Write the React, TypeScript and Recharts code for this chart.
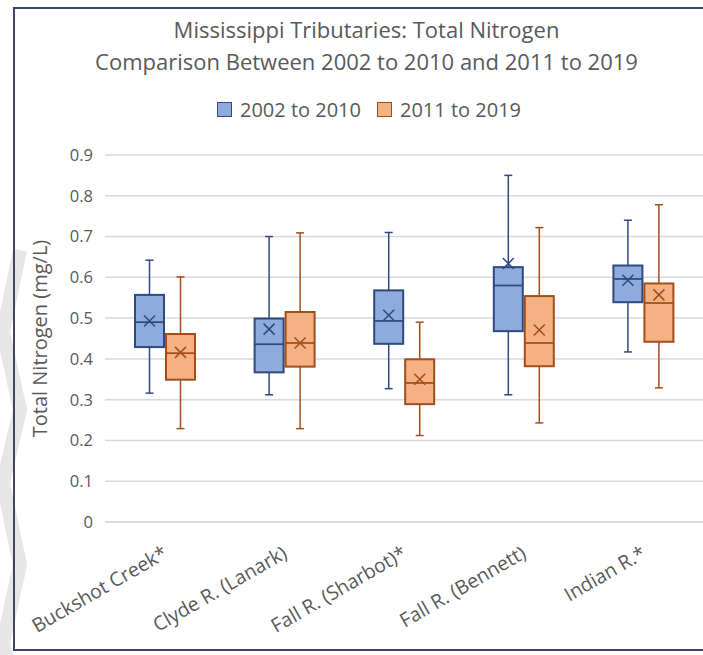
import { ComposedChart, Bar, XAxis, YAxis, CartesianGrid, Label } from 'recharts';

const categories = ['Buckshot Creek*', 'Clyde R. (Lanark)', 'Fall R. (Sharbot)*', 'Fall R. (Bennett)', 'Indian R.*'];

// 2002 to 2010
const earlyMin = [0.316, 0.312, 0.327, 0.312, 0.417];
const earlyQ1 = [0.429, 0.367, 0.437, 0.468, 0.539];
const earlyMedian = [0.49, 0.436, 0.493, 0.58, 0.596];
const earlyQ3 = [0.557, 0.499, 0.568, 0.625, 0.629];
const earlyMax = [0.642, 0.7, 0.71, 0.85, 0.74];
const earlyMean = [0.493, 0.473, 0.507, 0.634, 0.593];

// 2011 to 2019
const lateMin = [0.229, 0.229, 0.212, 0.243, 0.329];
const lateQ1 = [0.349, 0.381, 0.289, 0.382, 0.442];
const lateMedian = [0.414, 0.439, 0.341, 0.439, 0.537];
const lateQ3 = [0.461, 0.515, 0.399, 0.554, 0.585];
const lateMax = [0.601, 0.709, 0.49, 0.722, 0.778];
const lateMean = [0.416, 0.439, 0.35, 0.471, 0.557];

const yTicks = [0, 0.1, 0.2, 0.3, 0.4, 0.5, 0.6, 0.7, 0.8, 0.9];

const FONT = '"Open Sans", Lato, sans-serif';
const TEXT = '#595959';

const BLUE = { fill: '#8FAADC', stroke: '#2E4A7E' };
const ORANGE = { fill: '#F4B183', stroke: '#A24E1A' };

type Stats = { min: number; q1: number; median: number; q3: number; max: number; mean: number };

const data = categories.map((name, i) => ({
  name,
  early: [earlyMin[i], earlyMax[i]],
  late: [lateMin[i], lateMax[i]],
  earlyStats: { min: earlyMin[i], q1: earlyQ1[i], median: earlyMedian[i], q3: earlyQ3[i], max: earlyMax[i], mean: earlyMean[i] },
  lateStats: { min: lateMin[i], q1: lateQ1[i], median: lateMedian[i], q3: lateQ3[i], max: lateMax[i], mean: lateMean[i] },
}));

// the bar spans min..max on the y scale; the other stats are placed on that same scale
function boxShape(key: 'earlyStats' | 'lateStats', color: { fill: string; stroke: string }) {
  return (props: any) => {
    const { x, y, width, height, payload } = props;
    const s: Stats = payload[key];
    const top = Math.min(y, y + height);
    const h = Math.abs(height);
    const ppu = h / (s.max - s.min);
    const toY = (v: number) => top + (s.max - v) * ppu;
    const cx = x + width / 2;
    const cap = 4;
    const m = toY(s.mean);
    const mx = 5.5;
    return (
      <g>
        <line x1={cx} x2={cx} y1={toY(s.max)} y2={toY(s.q3)} stroke={color.stroke} strokeWidth={1.5} />
        <line x1={cx} x2={cx} y1={toY(s.q1)} y2={toY(s.min)} stroke={color.stroke} strokeWidth={1.5} />
        <line x1={cx - cap} x2={cx + cap} y1={toY(s.max)} y2={toY(s.max)} stroke={color.stroke} strokeWidth={1.5} />
        <line x1={cx - cap} x2={cx + cap} y1={toY(s.min)} y2={toY(s.min)} stroke={color.stroke} strokeWidth={1.5} />
        <rect
          x={x}
          y={toY(s.q3)}
          width={width}
          height={toY(s.q1) - toY(s.q3)}
          fill={color.fill}
          stroke={color.stroke}
          strokeWidth={2}
        />
        <line x1={x} x2={x + width} y1={toY(s.median)} y2={toY(s.median)} stroke={color.stroke} strokeWidth={1.75} />
        <line x1={cx - mx} x2={cx + mx} y1={m - mx} y2={m + mx} stroke={color.stroke} strokeWidth={1.5} />
        <line x1={cx - mx} x2={cx + mx} y1={m + mx} y2={m - mx} stroke={color.stroke} strokeWidth={1.5} />
      </g>
    );
  };
}

function CategoryTick({ x, y, payload }: any) {
  return (
    <g transform={`translate(${x + 4},${y + 27})`}>
      <text x={0} y={0} textAnchor="end" transform="rotate(-30)" fill={TEXT} fontSize={19.5} fontFamily={FONT}>
        {payload.value}
      </text>
    </g>
  );
}

function LegendItem({ label, color }: { label: string; color: { fill: string; stroke: string } }) {
  return (
    <span style={{ display: 'inline-flex', alignItems: 'center', gap: 8 }}>
      <span
        style={{
          width: 13,
          height: 13,
          background: color.fill,
          border: `1.5px solid ${color.stroke}`,
          display: 'inline-block',
        }}
      />
      <span>{label}</span>
    </span>
  );
}

export default function App() {
  return (
    <div style={{ position: 'absolute', left: 0, top: 0, width: 703, height: 655, background: '#fff', overflow: 'hidden' }}>
      {/* light grey zigzag showing through at the left edge */}
      <svg width={40} height={655} style={{ position: 'absolute', left: 0, top: 0 }}>
        <polyline
          points="20,250 3,332 20,410 3,483 20,565 3,643 20,720"
          fill="none"
          stroke="#E6E6E6"
          strokeWidth={14}
        />
      </svg>
      {/* frame of the chart area (cropped on the right) */}
      <div
        style={{
          position: 'absolute',
          left: 13,
          top: 7,
          width: 720,
          height: 640,
          border: '2px solid #3A4868',
          borderRight: 'none',
        }}
      />
      <div
        style={{
          position: 'absolute',
          left: 0,
          top: 13,
          width: 733,
          textAlign: 'center',
          fontFamily: FONT,
          color: TEXT,
          fontSize: 22,
          lineHeight: '32px',
        }}
      >
        <div>Mississippi Tributaries: Total Nitrogen</div>
        <div>Comparison Between 2002 to 2010 and 2011 to 2019</div>
      </div>
      <div
        style={{
          position: 'absolute',
          left: 0,
          top: 96,
          width: 738,
          display: 'flex',
          justifyContent: 'center',
          gap: 16,
          fontFamily: FONT,
          color: TEXT,
          fontSize: 20,
        }}
      >
        <LegendItem label="2002 to 2010" color={BLUE} />
        <LegendItem label="2011 to 2019" color={ORANGE} />
      </div>
      <div style={{ position: 'absolute', left: 0, top: 0 }}>
        <ComposedChart
          width={703}
          height={655}
          data={data}
          margin={{ top: 155, right: 0, bottom: 0, left: 45 }}
          barGap={2}
        >
          <CartesianGrid vertical={false} stroke="#D9D9D9" strokeWidth={1.5} />
          <XAxis
            dataKey="name"
            interval={0}
            tick={<CategoryTick />}
            tickLine={false}
            axisLine={{ stroke: '#D9D9D9', strokeWidth: 1.5 }}
            height={133}
          />
          <YAxis
            domain={[0, 0.9]}
            ticks={yTicks}
            width={60}
            axisLine={false}
            tickLine={false}
            tickMargin={6}
            tickFormatter={(v: number) => (v === 0 ? '0' : v.toFixed(1))}
            tick={{ fill: TEXT, fontSize: 16.5, fontFamily: FONT }}
          >
            <Label
              value="Total Nitrogen (mg/L)"
              angle={-90}
              position="insideLeft"
              offset={-5}
              style={{ fill: TEXT, fontSize: 20, fontFamily: FONT, textAnchor: 'middle' }}
            />
          </YAxis>
          <Bar dataKey="early" barSize={29} shape={boxShape('earlyStats', BLUE)} isAnimationActive={false} />
          <Bar dataKey="late" barSize={29} shape={boxShape('lateStats', ORANGE)} isAnimationActive={false} />
        </ComposedChart>
      </div>
    </div>
  );
}
